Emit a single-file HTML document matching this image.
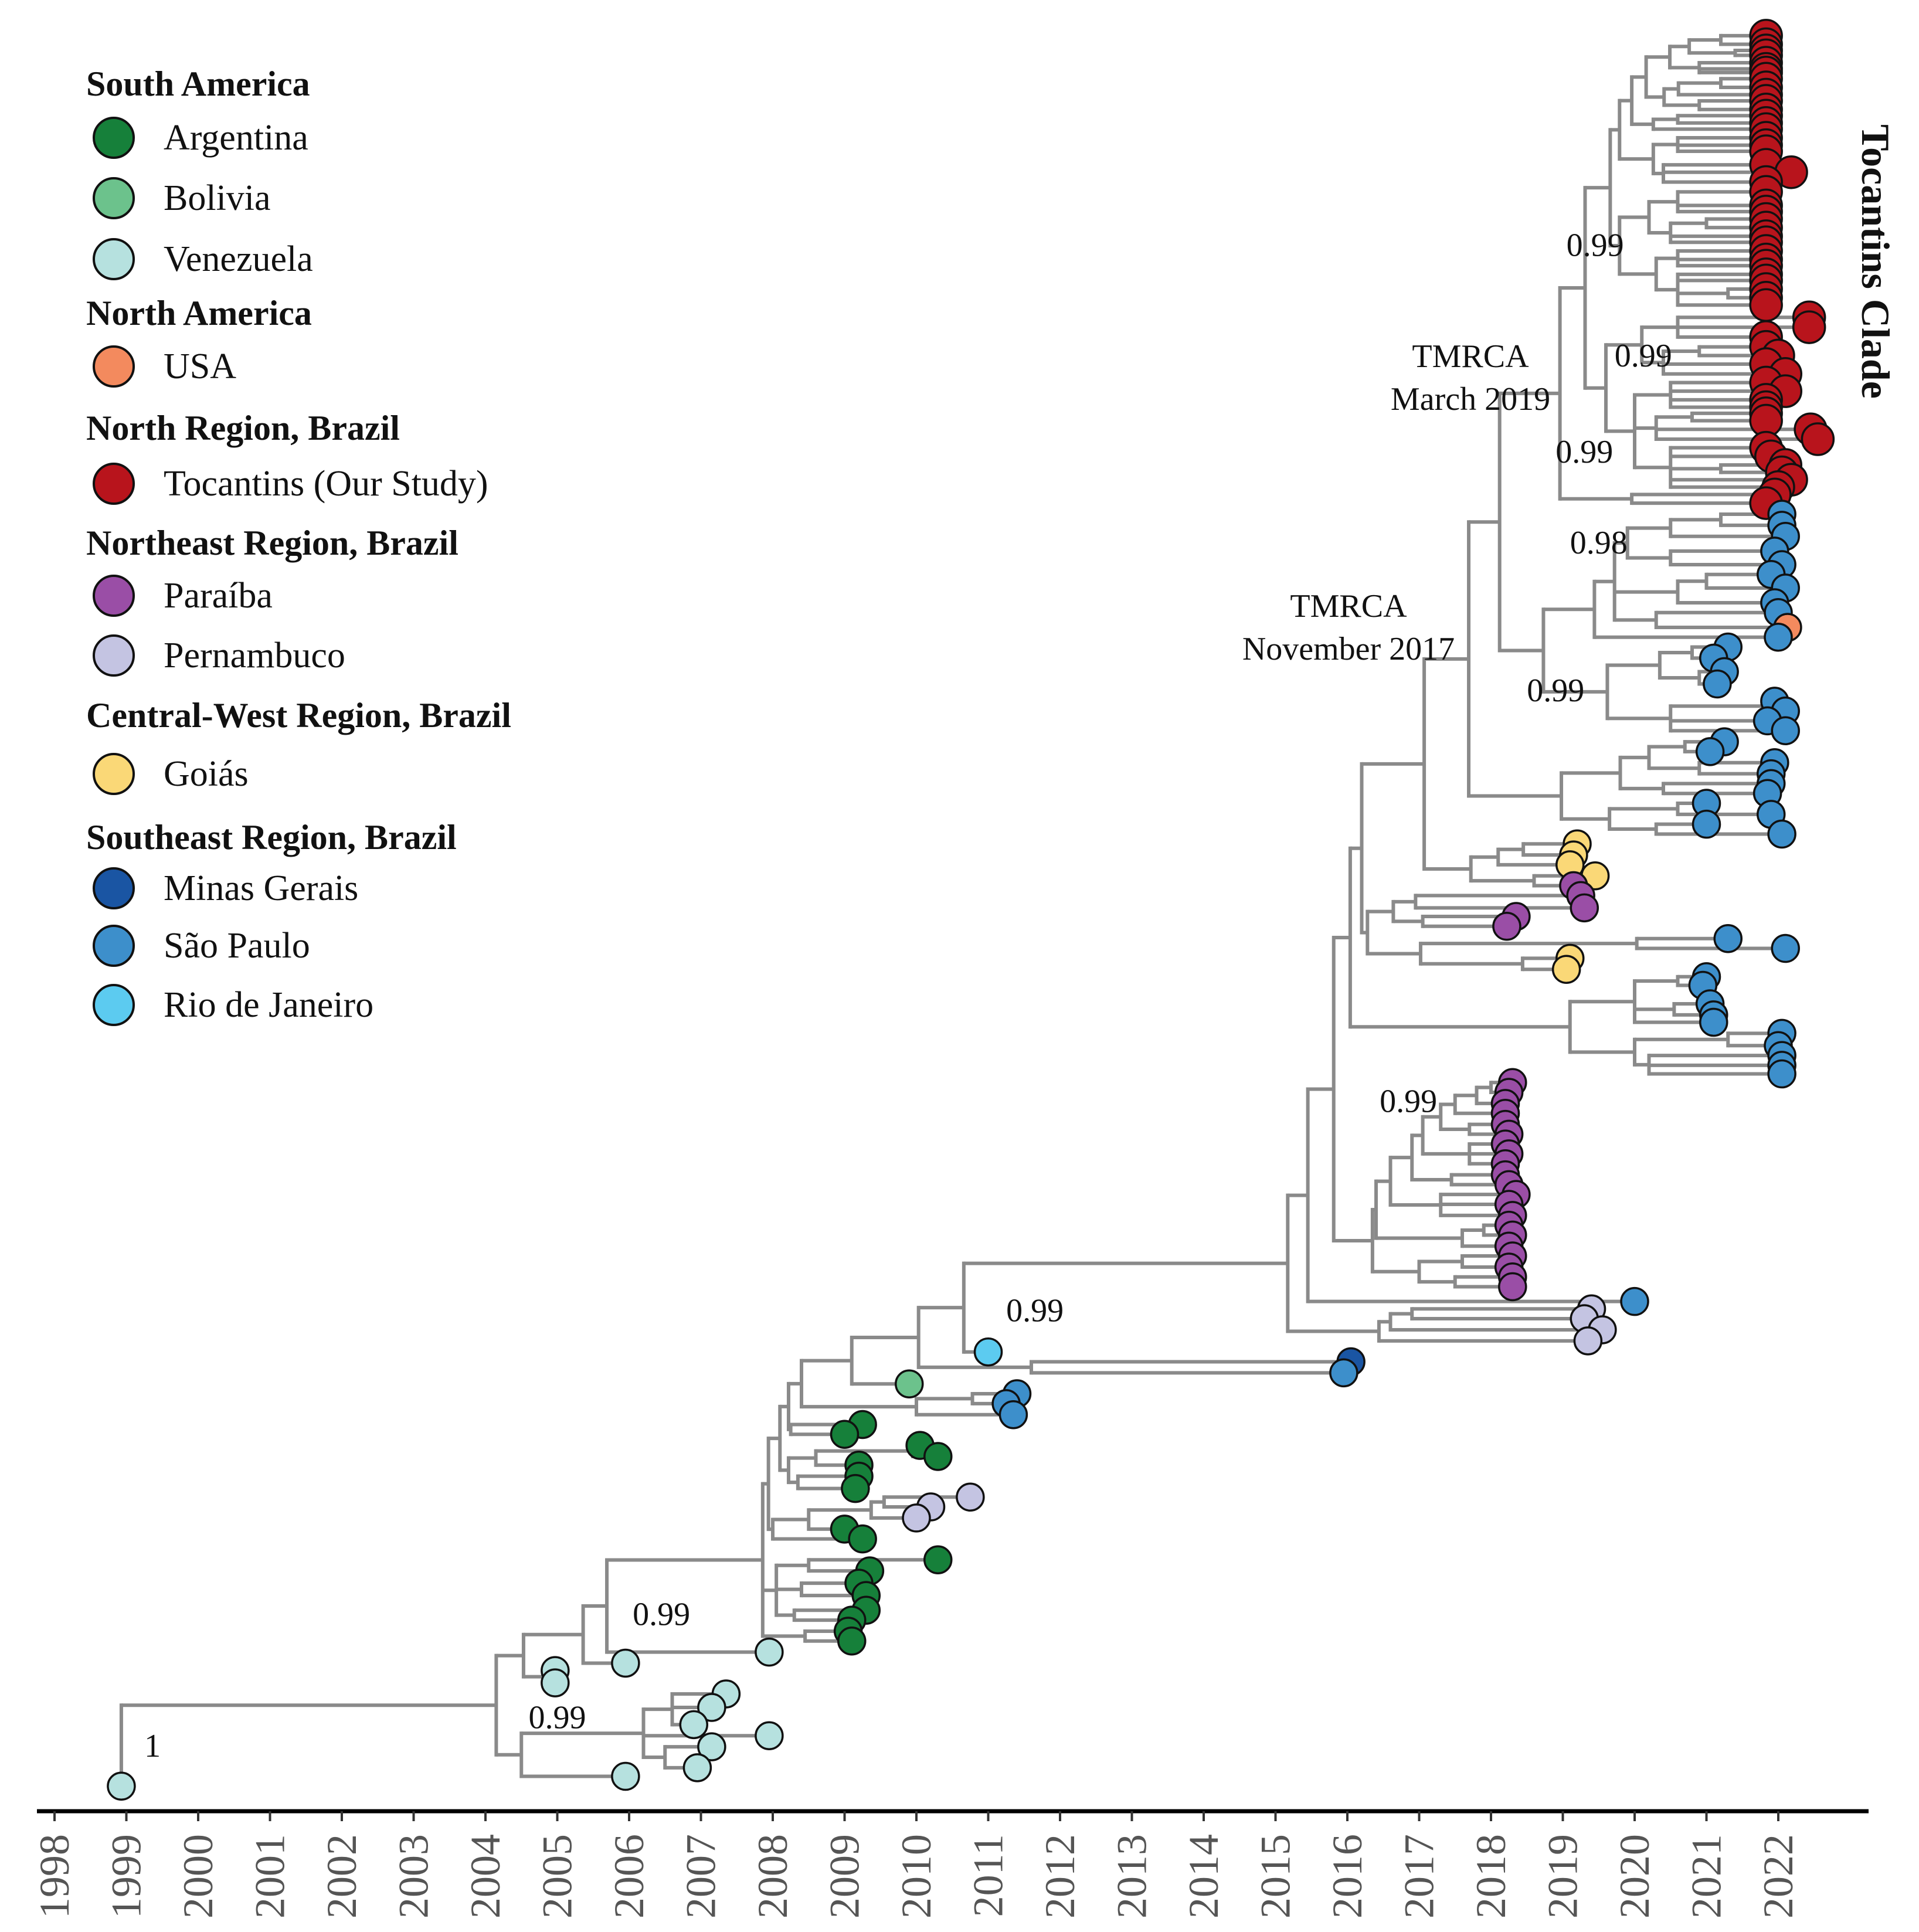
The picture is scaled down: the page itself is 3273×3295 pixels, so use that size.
<!DOCTYPE html>
<html>
<head>
<meta charset="utf-8">
<style>
html,body{margin:0;padding:0;background:#fff;}
svg{display:block;}
</style>
</head>
<body>
<svg id="chart" xmlns="http://www.w3.org/2000/svg" width="3273" height="3295" viewBox="0 0 3273 3295" font-family="'Liberation Serif', serif">
  <rect x="0" y="0" width="3273" height="3295" fill="#ffffff"/>
  <g id="branches"></g>
  <g id="tips"></g>
  <g id="axis"></g>
  <g id="labels"></g>
  <g id="legend"></g>
</svg>
<script>
// ---------- data ----------
const axisYears = [1998,1999,2000,2001,2002,2003,2004,2005,2006,2007,2008,2009,2010,2011,2012,2013,2014,2015,2016,2017,2018,2019,2020,2021,2022];
const countryKeys = ['AR','BO','VE','US','TO','PB','PE','GO','MG','SP','RJ'];
const countryNames = ['Argentina','Bolivia','Venezuela','USA','Tocantins (Our Study)','Paraíba','Pernambuco','Goiás','Minas Gerais','São Paulo','Rio de Janeiro'];
const countryColors = ['#16803a','#6cc28c','#b6e1df','#f38a5e','#b8141c','#9a4ea6','#c4c4e2','#fad877','#1a55a3','#3d8fcb','#5ccbf0'];
const legendGroups = ['South America','North America','North Region, Brazil','Northeast Region, Brazil','Central-West Region, Brazil','Southeast Region, Brazil'];
const legendGroupMembers = [['AR','BO','VE'],['US'],['TO'],['PB','PE'],['GO'],['MG','SP','RJ']];
const supportLabels = ['1','0.99','0.99','0.99','0.99','0.99','0.98','0.99','0.99','0.99'];
const supportYears = [1999.25,2004.6,2006.05,2011.25,2016.45,2018.5,2019.1,2018.9,2019.72,2019.05];
const supportRows = [1428,1405,1321,1074,904,570,450,376,298,208];

function N(t,c){return {t:t,c:c};}
function T(t,r,k){return {t:t,r:r,k:k};}
function R(r,t){return T(t===undefined?2021.83:t,r,'TO');}

// Tocantins clade
const T1a = N(2019.66,[
  N(2019.79,[
    N(2019.96,[
      N(2020.16,[
        N(2020.49,[ N(2020.76,[ N(2021.2,[R(29),R(36)]), N(2021.4,[R(41),R(45)]) ]), N(2020.9,[R(51),R(56),R(59)]) ]),
        N(2020.41,[ N(2020.61,[ N(2021.2,[R(64),R(71)]), R(77) ]), N(2020.9,[R(82),R(89)]) ])
      ]),
      N(2020.26,[ N(2020.6,[R(94),R(100)]), R(105) ])
    ]),
    N(2020.26,[ N(2020.6,[R(112),R(118),R(123)]), N(2020.4,[R(134),R(140,2022.18),R(148)]) ])
  ]),
  N(2019.79,[
    N(2020.2,[ N(2020.6,[R(156),R(167),R(172)]), N(2020.5,[N(2021.0,[R(178),R(185)]),R(192),R(197)]) ]),
    N(2020.3,[ N(2020.6,[R(204),R(211),R(216)]), N(2020.6,[R(223),R(228),N(2021.3,[R(235),R(242)]),R(248)]) ])
  ])
]);
const T1b = N(2019.6,[
  N(2020.1,[ N(2020.6,[R(258,2022.43),R(266,2022.43),R(274)]), N(2020.4,[N(2020.9,[R(282),R(289,2022.0)]),R(296),R(304,2022.1)]) ]),
  N(2020.0,[
    N(2020.5,[R(311),R(318,2022.1),R(325),R(331)]),
    N(2020.3,[N(2020.8,[R(336),R(342)]),R(349,2022.45),R(357,2022.55)]),
    N(2020.5,[R(364),R(371,2021.9),N(2021.2,[R(378,2022.1),R(384,2022.05)]),R(390,2022.18),R(396,2022.0)])
  ])
]);
const TOC = N(2018.96,[ N(2019.31,[T1a,T1b]), N(2019.96,[R(402,2021.95),R(409)]) ]);

const SB1 = N(2019.44,[
  N(2019.72,[
    N(2019.9,[ N(2020.5,[N(2021.2,[T(2022.05,418,'SP'),T(2022.05,427,'SP')]),T(2022.1,436,'SP')]), N(2020.5,[T(2021.95,448,'SP'),T(2022.05,459,'SP')]) ]),
    N(2020.6,[ N(2021.0,[T(2021.9,467,'SP'),T(2022.1,478,'SP')]), T(2021.95,490,'SP') ]),
    N(2020.3,[T(2022.0,498,'SP'),T(2022.13,510,'US')])
  ]),
  T(2022.0,518,'SP')
]);
const SB2 = N(2019.62,[
  N(2019.87,[ N(2020.35,[ N(2020.8,[T(2021.3,526,'SP'),T(2021.1,535,'SP')]), N(2020.9,[T(2021.25,546,'SP'),T(2021.15,556,'SP')]) ]) ]),
  N(2020.5,[ N(2021.9,[T(2021.95,570,'SP'),T(2022.1,578,'SP')]), T(2021.85,586,'SP'), T(2022.1,594,'SP') ])
]);
const SPC = N(2018.98,[
  N(2019.8,[ N(2020.2,[ N(2020.7,[T(2021.25,603,'SP'),T(2021.05,611,'SP')]), N(2020.9,[T(2021.95,620,'SP'),T(2021.9,629,'SP')]) ]), N(2020.4,[T(2021.9,637,'SP'),T(2021.85,645,'SP')]) ]),
  N(2019.65,[ N(2020.6,[T(2021.0,653,'SP'),T(2021.9,662,'SP')]), N(2020.3,[T(2021.0,670,'SP'),T(2022.05,678,'SP')]) ])
]);
const GOPB = N(2017.72,[
  N(2018.1,[ N(2018.45,[T(2019.2,686,'GO'),T(2019.15,695,'GO')]), T(2019.1,703,'GO') ]),
  N(2018.6,[T(2019.45,712,'GO'),T(2019.15,720,'PB')])
]);
const UB = N(2017.07,[ N(2017.69,[ N(2018.12,[TOC, N(2018.73,[SB1,SB2])]), SPC ]), GOPB ]);
const UC = N(2016.28,[
  N(2016.64,[ N(2016.95,[T(2019.25,728,'PB'),T(2019.3,738,'PB')]), N(2017.05,[T(2018.35,745,'PB'),T(2018.22,753,'PB')]) ]),
  N(2017.02,[ N(2020.03,[T(2021.3,763,'SP'),T(2022.1,771,'SP')]), N(2018.44,[T(2019.1,779,'GO'),T(2019.05,788,'GO')]) ])
]);
const SP3 = N(2019.1,[
  N(2020.0,[ N(2020.6,[T(2021.0,794,'SP'),T(2020.95,801,'SP')]), N(2020.55,[T(2021.05,816,'SP'),T(2021.1,825,'SP')]), T(2021.1,831,'SP') ]),
  N(2020.0,[ N(2021.3,[T(2022.05,840,'SP'),T(2022.0,850,'SP')]), N(2020.2,[T(2022.05,858,'SP'),T(2022.05,866,'SP'),T(2022.05,873,'SP')]) ])
]);
const UPPER = N(2016.04,[ N(2016.2,[UB, UC]), SP3 ]);
const PUR = N(2016.35,[
  N(2016.4,[
    N(2016.6,[
      N(2016.9,[
        N(2017.05,[
          N(2017.3,[ N(2017.5,[ N(2017.8,[ N(2018.0,[T(2018.3,880,'PB'),T(2018.25,888,'PB')]), T(2018.2,897,'PB') ]), T(2018.2,905,'PB') ]), N(2017.7,[T(2018.2,914,'PB'),T(2018.25,922,'PB')]) ]),
          N(2017.7,[T(2018.2,930,'PB'),T(2018.25,938,'PB'),T(2018.2,946,'PB')])
        ]),
        N(2017.45,[T(2018.2,955,'PB'),T(2018.25,963,'PB')])
      ]),
      N(2017.3,[T(2018.35,971,'PB'),T(2018.25,979,'PB'),T(2018.3,988,'PB')])
    ]),
    N(2017.6,[ N(2017.9,[T(2018.25,996,'PB'),T(2018.3,1004,'PB')]), T(2018.25,1013,'PB') ])
  ]),
  N(2017.0,[ N(2017.6,[T(2018.3,1021,'PB'),T(2018.25,1030,'PB')]), N(2017.5,[T(2018.3,1038,'PB'),T(2018.3,1046,'PB')]) ])
]);
const PEG = N(2016.44,[ N(2016.6,[ N(2016.9,[T(2019.4,1064,'PE'),T(2019.3,1072,'PE')]), T(2019.55,1081,'PE') ]), T(2019.35,1090,'PE') ]);
const MID = N(2015.17,[ N(2015.45,[ N(2015.81,[UPPER, PUR]), T(2020.0,1058,'SP') ]), PEG ]);
const RIO = N(2010.03,[ N(2010.66,[MID, T(2011.0,1099,'RJ')]), N(2011.6,[T(2016.05,1107,'MG'),T(2015.95,1116,'SP')]) ]);
const SPn = N(2010.0,[ N(2010.78,[T(2011.4,1133,'SP'),T(2011.25,1141,'SP')]), T(2011.35,1150,'SP') ]);
const K1 = N(2007.94,[
  N(2008.1,[
    N(2008.22,[ N(2008.4,[ N(2009.1,[RIO, T(2009.9,1125,'BO')]), SPn ]), N(2008.25,[T(2009.25,1158,'AR'),T(2009.0,1166,'AR')]) ]),
    N(2008.22,[ N(2008.6,[ N(2009.95,[T(2010.05,1175,'AR'),T(2010.3,1184,'AR')]), T(2009.2,1191,'AR') ]), N(2008.35,[T(2009.2,1200,'AR'),T(2009.15,1210,'AR')]) ])
  ]),
  N(2008.0,[ N(2008.5,[ N(2009.37,[ N(2009.55,[T(2010.75,1217,'PE'),T(2010.2,1225,'PE')]), T(2010.0,1234,'PE') ]), T(2009.0,1243,'AR') ]), T(2009.25,1251,'AR') ])
]);
const K2 = N(2008.05,[ N(2008.5,[T(2010.3,1268,'AR'),T(2009.35,1277,'AR')]), N(2008.4,[T(2009.2,1287,'AR'),T(2009.3,1297,'AR')]), N(2008.3,[T(2009.3,1309,'AR'),T(2009.1,1317,'AR')]) ]);
const K3 = N(2008.45,[T(2009.05,1326,'AR'),T(2009.1,1334,'AR')]);
const BIG = N(2007.86,[K1,K2,K3]);
const VENC = N(2004.5,[
  N(2006.2,[ N(2006.6,[T(2007.35,1377,'VE'),T(2007.15,1388,'VE'),T(2006.9,1402,'VE')]), T(2007.95,1411,'VE'), N(2006.5,[T(2007.15,1420,'VE'),T(2006.95,1437,'VE')]) ]),
  T(2005.95,1444,'VE')
]);
const tree = N(1998.93,[
  N(2004.15,[
    N(2004.53,[
      N(2005.36,[ N(2005.69,[BIG, T(2007.95,1343,'VE')]), T(2005.95,1352,'VE') ]),
      N(2004.85,[T(2004.97,1358,'VE'),T(2004.97,1368,'VE')])
    ]),
    VENC
  ]),
  T(1998.93,1452,'VE')
]);

// ---------- scales ----------
const X = t => 93 + 122.5*(t-1998);
const Y = r => r*2.098;
const NS = 'http://www.w3.org/2000/svg';
function mk(tag, attrs, parent){
  const e = document.createElementNS(NS, tag);
  for (const k in attrs) e.setAttribute(k, attrs[k]);
  parent.appendChild(e);
  return e;
}
const gB = document.getElementById('branches');
const gT = document.getElementById('tips');
const gA = document.getElementById('axis');
const gL = document.getElementById('labels');
const colorOf = k => countryColors[countryKeys.indexOf(k)];
const nameOf = k => countryNames[countryKeys.indexOf(k)];

const tipList = [];
function layout(n){
  if (!n.c){ n.y = Y(n.r); tipList.push(n); return n.y; }
  const ys = n.c.map(layout);
  n.y = (ys[0] + ys[ys.length-1]) / 2;
  return n.y;
}
layout(tree);
function drawBranches(n){
  if (!n.c) return;
  const x = X(n.t);
  const ys = n.c.map(c => c.y);
  const v = mk('line', {x1:x, x2:x, y1:Math.min(...ys), y2:Math.max(...ys), stroke:'#8a8a8a', 'stroke-width':6, 'stroke-linecap':'square'}, gB);
  
  
  n.c.forEach(c => {
    const h = mk('line', {x1:x, x2:X(c.t), y1:c.y, y2:c.y, stroke:'#8a8a8a', 'stroke-width':6}, gB);
    
    
    drawBranches(c);
  });
}
drawBranches(tree);
tipList.forEach(tp => {
  const c = mk('circle', {cx:X(tp.t), cy:tp.y, r:(tp.k==='TO'?27:23), fill:colorOf(tp.k), stroke:'#111', 'stroke-width':3.5}, gT);
  
  
  const ttl = mk('title', {}, c); ttl.textContent = nameOf(tp.k) + ' ' + tp.t.toFixed(2);
});

// ---------- axis ----------
const axLine = mk('line', {x1:63, x2:3187, y1:3089, y2:3089, stroke:'#000', 'stroke-width':7}, gA);


axisYears.forEach(yr => {
  const x = X(yr);
  const tk = mk('line', {x1:x, x2:x, y1:3089, y2:3106, stroke:'#333', 'stroke-width':4}, gA);
  
  
  const tx = mk('text', {x:0, y:0, transform:'translate(' + (x+24) + ',3128) rotate(-90)', 'text-anchor':'end', 'font-size':72, fill:'#555'}, gA);
  tx.textContent = String(yr);
  
  
});

// ---------- support labels ----------
supportLabels.forEach((s, i) => {
  const tx = mk('text', {x:X(supportYears[i]), y:Y(supportRows[i]), 'font-size':56, fill:'#111'}, gL);
  tx.textContent = s;
  
  
});
</script>
<script>
// static annotations + legend
(function(){
  const NS='http://www.w3.org/2000/svg';
  const gL=document.getElementById('labels');
  const gLeg=document.getElementById('legend');
  function mk(tag, attrs, parent){const e=document.createElementNS(NS,tag);for(const k in attrs)e.setAttribute(k,attrs[k]);parent.appendChild(e);return e;}
  const ann = [['TMRCA',2508,626],['March 2019',2508,699],['TMRCA',2300,1052],['November 2017',2300,1125]];
  ann.forEach(a=>{
    const t=mk('text',{x:a[1],y:a[2],'text-anchor':'middle','font-size':56,fill:'#111'},gL);
    t.textContent=a[0];
    
    
  });
  const tc=mk('text',{x:0,y:0,transform:'translate(3176,212) rotate(90)','font-size':68,'font-weight':'bold',fill:'#111'},gL);
  tc.textContent='Tocantins Clade';
  
  

  const headY=[163,554,750,946,1240,1448];
  const itemRows=[235,338,442,625,825,1016,1118,1320,1515,1613,1714];
  let idx=0;
  legendGroups.forEach((g,gi)=>{
    const h=mk('text',{x:147,y:headY[gi],'font-size':60,'font-weight':'bold',fill:'#111'},gLeg);
    h.textContent=g;
    
    
    legendGroupMembers[gi].forEach(k=>{
      const cy=itemRows[idx++];
      const ki=countryKeys.indexOf(k);
      const c=mk('circle',{cx:194,cy:cy,r:34,fill:countryColors[ki],stroke:'#111','stroke-width':4},gLeg);
      
      
      const t=mk('text',{x:279,y:cy+20,'font-size':62,fill:'#111'},gLeg);
      t.textContent=countryNames[ki];
      
      
    });
  });
})();
</script>
</body>
</html>
